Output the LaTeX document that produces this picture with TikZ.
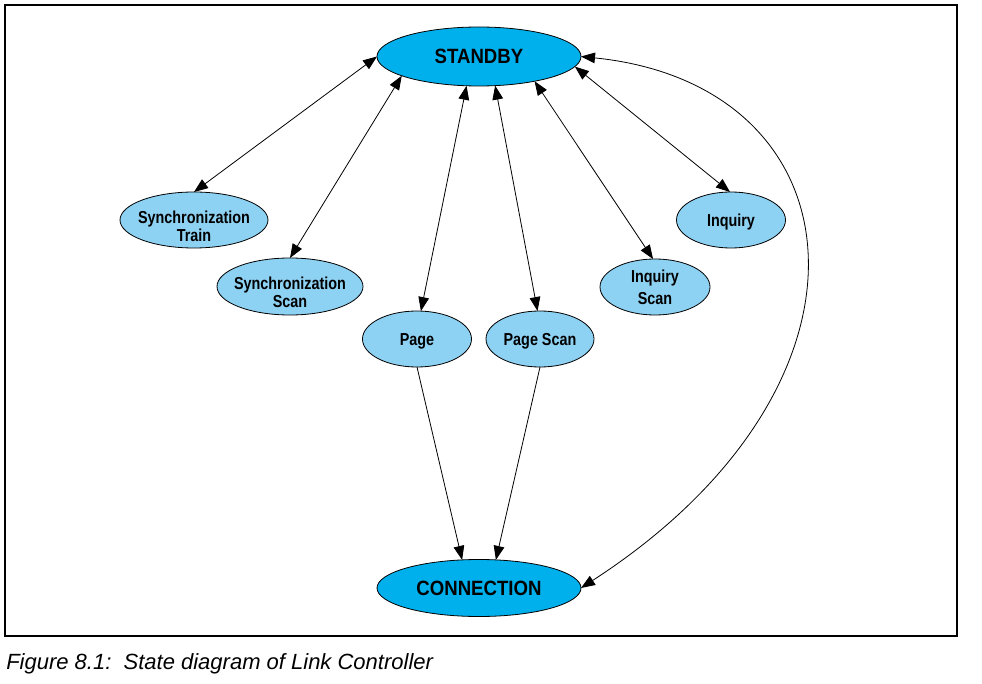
\documentclass[tikz,border=0pt]{standalone}
\usepackage{fontspec}
\setmainfont{Liberation Sans}
\newfontfamily\smallnf[FakeStretch=0.83]{Liberation Sans}
\newfontfamily\bignf[FakeStretch=0.9]{Liberation Sans}
\usetikzlibrary{arrows.meta,shapes.geometric}
\definecolor{bigfill}{RGB}{0,176,236}
\definecolor{smallfill}{RGB}{142,210,243}
\begin{document}
\begin{tikzpicture}[x=0.75pt,y=-0.75pt,
  state/.style={ellipse,draw=black,line width=0.6pt,inner xsep=-30pt,inner ysep=-8pt,outer sep=0pt,align=center},
  bigstate/.style={state,fill=bigfill,minimum width=153pt,font=\bignf\bfseries\fontsize{15.5}{16}\selectfont,text height=11.1pt,text depth=0pt},
  smallstate/.style={state,fill=smallfill,minimum height=42pt,font=\smallnf\bfseries\fontsize{13}{13.5}\selectfont,text height=9.3pt,text depth=0pt},
  twoline/.style={text height={},text depth={}},
  link/.style={line width=0.6pt,{Triangle[length=10.5pt,width=8pt]}-{Triangle[length=10.5pt,width=8pt]}},
  oneway/.style={line width=0.6pt,-{Triangle[length=10.5pt,width=8pt]}}]
\useasboundingbox (0,0) rectangle (982,684);
\draw[line width=2.2pt] (5,5) rectangle (957,636);

\node (standby) [bigstate,minimum height=44.25pt] at (479,56.5) {STANDBY};
\node (connection) [bigstate,minimum height=42.75pt] at (479,588) {CONNECTION};
\node (synctrain) [smallstate,twoline,minimum width=111pt] at (194,220) {\rule{0pt}{18.5pt}Synchronization\\Train};
\node (syncscan) [smallstate,twoline,minimum width=109.5pt,minimum height=42.75pt] at (290,286.5) {\rule{0pt}{18.5pt}Synchronization\\Scan};
\node (page) [smallstate,minimum width=81.75pt] at (417,339) {Page};
\node (pagescan) [smallstate,minimum width=81pt] at (540,339) {Page Scan};
\node (inquiryscan) [smallstate,twoline,minimum width=82.5pt] at (655,287) {Inquiry\\[3pt]Scan};
\node (inquiry) [smallstate,minimum width=81.75pt] at (731,220) {Inquiry};

\draw[link] (standby.west) -- (synctrain.north);
\draw[link] (standby.194) -- (syncscan.north);
\draw[link] (standby.247) -- (page.82);
\draw[link] (standby.299) -- (pagescan.95);
\draw[link] (standby.336) -- (inquiryscan.94);
\draw[link] (standby.354) -- (inquiry.92);
\draw[oneway] (page.south) -- (connection.121.7);
\draw[oneway] (pagescan.south) -- (connection.59.4);
\draw[link] (standby.east) .. controls (862,85) and (897.5,383) .. (connection.east);

\node (caption) [anchor=base west,inner sep=0pt,font=\itshape\fontsize{16.5}{18}\selectfont] at (6,669) {Figure 8.1:\ \ State diagram of Link Controller};
\end{tikzpicture}
\end{document}
